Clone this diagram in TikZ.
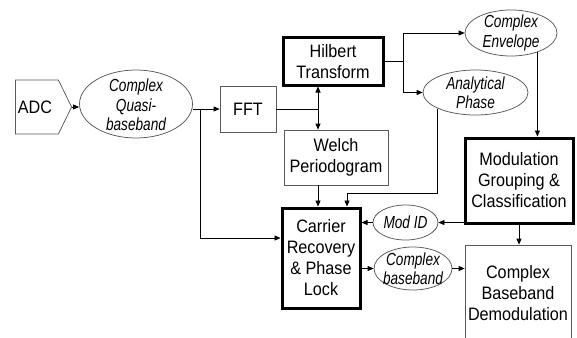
\documentclass[tikz,border=0pt]{standalone}
\usepackage{fontspec}
\setmainfont{Liberation Sans}[FakeStretch=0.9]
\newfontfamily\ellfont{Liberation Sans}[FakeStretch=0.78]
\usetikzlibrary{shapes.geometric,shapes.symbols,arrows.meta}

\tikzset{every picture/.style={line width=0.75pt}}
\tikzset{
  blok/.style={draw=black!65,rectangle,align=center,inner sep=0pt,font=\fontsize{18}{21}\selectfont},
  dik/.style={blok,draw=black,line width=3pt},
  elips/.style={draw=black!65,ellipse,inner sep=0pt},
  eltekst/.style={align=center,inner sep=0pt,font=\ellfont\fontsize{17.5}{19.5}\selectfont\itshape},
  pijl/.style={-{Triangle[length=6pt,width=5pt]}},
}

\begin{document}
\begin{tikzpicture}[x=1pt,y=-1pt]
\useasboundingbox[fill=white] (0,0) rectangle (577,337);
% blokken
\node[blok,signal,signal to=east,signal pointer angle=128,minimum width=56pt,minimum height=54pt] (adc) at (37,107) {ADC\hspace*{4pt}};
\node[elips,minimum width=113pt,minimum height=68pt,label={[eltekst,yshift=-1pt]center:Complex\\Quasi-\\baseband}] (quasi) at (136,104) {};
\node[blok,minimum width=56pt,minimum height=46pt] (fft) at (248,109) {FFT};
\node[dik,minimum width=100pt,minimum height=47pt] (hilbert) at (333,61.5) {Hilbert\\Transform};
\node[blok,minimum width=104pt,minimum height=55pt] (welch) at (336,157.5) {Welch\\Periodogram};
\node[elips,minimum width=92pt,minimum height=46pt,label={[eltekst]center:Complex\\Envelope}] (env) at (511,33) {};
\node[elips,minimum width=105pt,minimum height=45pt,label={[eltekst]center:Analytical\\Phase}] (phase) at (475.5,92.5) {};
\node[dik,minimum width=108pt,minimum height=85pt] (modcls) at (519,180.5) {Modulation\\Grouping \&\\Classification};
\node[dik,minimum width=78pt,minimum height=100pt] (carrier) at (321,258) {Carrier\\Recovery\\\& Phase\\Lock};
\node[elips,minimum width=65pt,minimum height=35pt,label={[eltekst]center:Mod ID}] (modid) at (405.5,222.5) {};
\node[elips,minimum width=78pt,minimum height=43pt,label={[eltekst]center:Complex\\baseband}] (cbb) at (413,268.5) {};
\node[blok,minimum width=106pt,minimum height=96pt] (demod) at (518,293) {Complex\\Baseband\\Demodulation};
% knooppunten
\coordinate (j1) at (200,109);
\coordinate (j2) at (318,109);
\coordinate (j3) at (403,61.5);
% verbindingen
\draw[pijl] (adc.east) -- (adc.east -| quasi.west);
\draw[pijl] (fft.west -| quasi.east) -- (fft.west);
\draw[pijl] (j1) |- ([yshift=20pt]carrier.west);
\draw (fft.east) -- (j2);
\draw[{Triangle[length=6pt,width=5pt]}-{Triangle[length=6pt,width=5pt]}] (hilbert.south -| j2) -- (welch.north -| j2);
\draw (hilbert.east) -- (j3);
\draw[pijl] (j3) |- (env.west);
\draw[pijl] (j3) |- (phase.west);
\draw[pijl] (env.-36) -- (env.-36 |- modcls.north);
\draw[pijl] (phase.-157) -- (phase.-157 |- 0,193) -| ([xshift=26pt]carrier.north);
\draw[pijl] (welch.south -| j2) -- (carrier.north -| j2);
\draw[pijl] (modid.east -| modcls.west) -- (modid.east);
\draw[pijl] (modid.west) -- (modid.west -| carrier.east);
\draw[pijl] (cbb.west -| carrier.east) -- (cbb.west);
\draw[pijl] (cbb.east) -- (cbb.east -| demod.west);
\draw[pijl] (modcls.south) -- (modcls.south |- demod.north);
\end{tikzpicture}
\end{document}
